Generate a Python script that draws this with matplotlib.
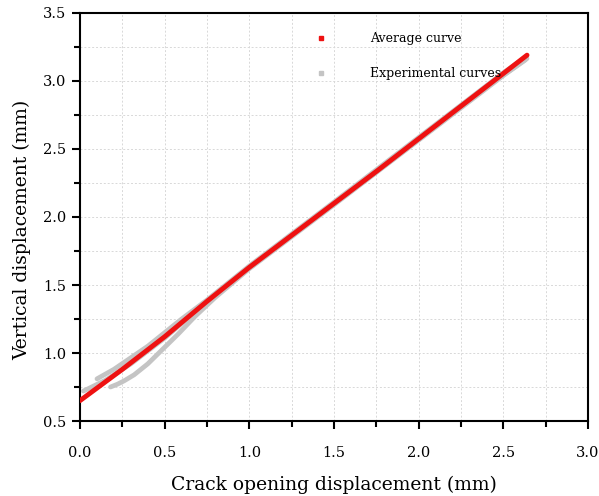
import matplotlib
matplotlib.use("Agg")
import matplotlib.pyplot as plt
from matplotlib.ticker import MultipleLocator, FormatStrFormatter

# Average curve
avg_x = [0.00, 0.25, 0.50, 0.75, 1.00, 1.25, 1.50, 1.75, 2.00, 2.25, 2.50, 2.64]
avg_y = [0.65, 0.88, 1.12, 1.38, 1.63, 1.865, 2.10, 2.335, 2.575, 2.815, 3.055, 3.19]

# Experimental curves
exp1_x = [0.10, 0.20, 0.30, 0.40, 0.50, 0.60, 0.75, 1.00, 1.50, 2.00, 2.50, 2.62]
exp1_y = [0.81, 0.88, 0.965, 1.05, 1.15, 1.25, 1.39, 1.64, 2.11, 2.585, 3.06, 3.165]
exp2_x = [0.18, 0.22, 0.26, 0.32, 0.40, 0.49, 0.58, 0.68, 0.80, 1.00, 1.50, 2.00, 2.50, 2.63]
exp2_y = [0.75, 0.77, 0.795, 0.84, 0.92, 1.03, 1.14, 1.27, 1.41, 1.62, 2.09, 2.565, 3.04, 3.155]
exp3_x = [0.02, 0.15, 0.30, 0.50, 0.80, 1.20, 1.60, 2.00, 2.40, 2.64]
exp3_y = [0.72, 0.80, 0.92, 1.11, 1.43, 1.82, 2.19, 2.57, 2.955, 3.165]

plt.rcParams['font.family'] = ['DejaVu Serif']

fig = plt.figure(figsize=(5.99, 4.96), dpi=100)
ax = fig.add_axes([0.1336, 0.1512, 0.848, 0.8226])

gray = '#c4c4c4'
for xs, ys in [(exp1_x, exp1_y), (exp2_x, exp2_y), (exp3_x, exp3_y)]:
    ax.plot(xs, ys, color=gray, lw=3.4, solid_capstyle='round',
            solid_joinstyle='round', zorder=2)
ax.plot(avg_x, avg_y, color='#ee1111', lw=3.5, solid_capstyle='round',
        solid_joinstyle='round', zorder=3)

# legend handles (marker only)
h1, = ax.plot([], [], 's', color='#ee1111', ms=2.5, label='Average curve')
h2, = ax.plot([], [], 's', color=gray, ms=2.5, label='Experimental curves')
ax.legend(handles=[h1, h2], loc='upper left', bbox_to_anchor=(0.44, 0.98),
          frameon=False, fontsize=9, handletextpad=3.4, labelspacing=1.75,
          handlelength=1.0)

ax.set_xlim(0, 3.0)
ax.set_ylim(0.5, 3.5)
ax.xaxis.set_major_locator(MultipleLocator(0.5))
ax.xaxis.set_minor_locator(MultipleLocator(0.25))
ax.yaxis.set_major_locator(MultipleLocator(0.5))
ax.yaxis.set_minor_locator(MultipleLocator(0.25))
ax.xaxis.set_major_formatter(FormatStrFormatter('%.1f'))
ax.yaxis.set_major_formatter(FormatStrFormatter('%.1f'))
ax.grid(True, which='both', color='#d8d8d8', ls=(0, (2, 2)), lw=0.7)
ax.set_axisbelow(True)

for s in ax.spines.values():
    s.set_linewidth(1.5)
ax.tick_params(which='major', direction='out', length=6, width=1.5, labelsize=10.5)
ax.tick_params(which='minor', direction='out', length=4, width=1.5)
ax.tick_params(axis='x', which='major', pad=12)
ax.tick_params(axis='y', which='major', pad=4)

ax.set_xlabel('Crack opening displacement (mm)', fontsize=13.5, labelpad=11)
ax.set_ylabel('Vertical displacement (mm)', fontsize=13.5)
ax.yaxis.set_label_coords(-0.096, 0.468)

fig.savefig('out.png', dpi=100)
